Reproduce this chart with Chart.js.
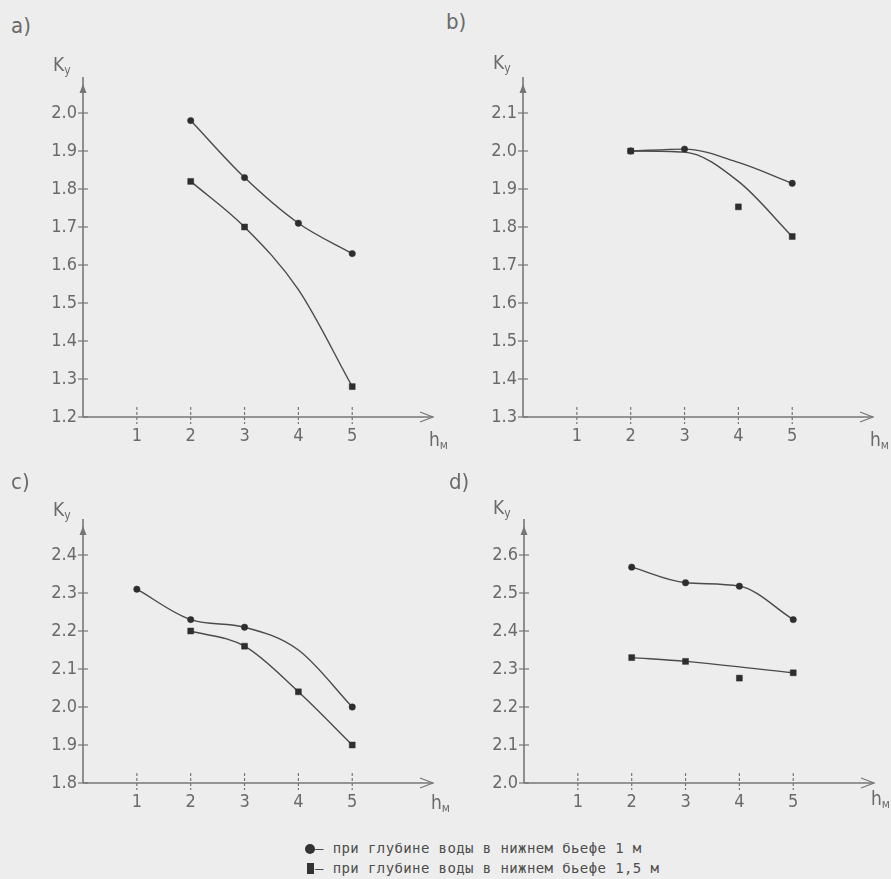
<!DOCTYPE html>
<html>
<head>
<meta charset="utf-8">
<script src="https://cdn.jsdelivr.net/npm/chart.js@4.4.1/dist/chart.umd.min.js"></script>
<style>
    body {
        margin: 0;
        width: 891px;
        height: 879px;
        background: #ededed;
        position: relative;
        overflow: hidden;
    }
    canvas { position: absolute; }
    .lbl {
        position: absolute;
        font-family: 'Liberation Sans Narrow', 'DejaVu Sans Condensed', 'DejaVu Sans', sans-serif;
        color: #6a6a6a;
        line-height: 1;
        white-space: nowrap;
    }
    .panel { font-size: 22px; }
    .ky { font-size: 19px; }
    .ky sub, .hm sub { font-size: 12px; vertical-align: -3px; }
    .hm { font-size: 19px; }
    .legend {
        position: absolute;
        left: 305px;
        font-family: 'DejaVu Sans Mono', monospace;
        font-size: 14px;
        letter-spacing: 0.4px;
        color: #4e4e4e;
        line-height: 1;
        white-space: nowrap;
    }
    .mark { display: inline-block; background: #333; vertical-align: -1px; }
</style>
</head>
<body>

<canvas id="chartA" width="445" height="420" style="left:0;top:40px"></canvas>
<canvas id="chartB" width="451" height="420" style="left:440px;top:40px"></canvas>
<canvas id="chartC" width="445" height="344" style="left:0;top:482px"></canvas>
<canvas id="chartD" width="451" height="344" style="left:441px;top:482px"></canvas>

<div class="lbl panel" style="left:11px;top:15px">a)</div>
<div class="lbl panel" style="left:446px;top:11px">b)</div>
<div class="lbl panel" style="left:11px;top:471px">c)</div>
<div class="lbl panel" style="left:449px;top:471px">d)</div>

<div class="lbl ky" style="left:53px;top:55px">K<sub>y</sub></div>
<div class="lbl ky" style="left:493px;top:53px">K<sub>y</sub></div>
<div class="lbl ky" style="left:53px;top:500px">K<sub>y</sub></div>
<div class="lbl ky" style="left:493px;top:498px">K<sub>y</sub></div>

<div class="lbl hm" style="left:429px;top:430px">h<sub>м</sub></div>
<div class="lbl hm" style="left:870px;top:430px">h<sub>м</sub></div>
<div class="lbl hm" style="left:431px;top:793px">h<sub>м</sub></div>
<div class="lbl hm" style="left:871px;top:789px">h<sub>м</sub></div>

<div class="legend" style="top:841px"><span class="mark" style="width:10px;height:10px;border-radius:50%"></span>— при глубине воды в нижнем бьефе 1 м</div>
<div class="legend" style="top:861px"><span class="mark" style="width:7px;height:11px;margin-left:2px;margin-right:1px"></span>— при глубине воды в нижнем бьефе 1,5 м</div>

<script>
// x axis, shared by all panels
const xTickValues = [1, 2, 3, 4, 5];

// panel a) - upper curve, lower curve (no mark at h=4 on the lower one)
const aX = [2, 3, 4, 5];
const aUpper = [1.98, 1.83, 1.71, 1.63];
const aUpperMarks = [true, true, true, true];
const aLower = [1.82, 1.70, 1.535, 1.28];
const aLowerMarks = [true, true, false, true];
const aYTicks = [1.2, 1.3, 1.4, 1.5, 1.6, 1.7, 1.8, 1.9, 2.0];

// panel b)
const bX = [2, 3, 4, 5];
const bUpper = [2.0, 2.005, 1.97, 1.915];
const bUpperMarks = [true, true, false, true];
const bLower = [2.0, 1.997, 1.92, 1.775];
const bLowerMarks = [true, false, false, true];
const bLoneX = [4];
const bLoneY = [1.853];
const bYTicks = [1.3, 1.4, 1.5, 1.6, 1.7, 1.8, 1.9, 2.0, 2.1];

// panel c)
const cUpperX = [1, 2, 3, 4, 5];
const cUpper = [2.31, 2.23, 2.21, 2.15, 2.0];
const cUpperMarks = [true, true, true, false, true];
const cLowerX = [2, 3, 4, 5];
const cLower = [2.2, 2.16, 2.04, 1.9];
const cLowerMarks = [true, true, true, true];
const cYTicks = [1.8, 1.9, 2.0, 2.1, 2.2, 2.3, 2.4];

// panel d)
const dUpperX = [2, 3, 4, 5];
const dUpper = [2.568, 2.527, 2.518, 2.43];
const dUpperMarks = [true, true, true, true];
const dLowerX = [2, 3, 5];
const dLower = [2.33, 2.32, 2.29];
const dLowerMarks = [true, true, true];
const dLoneX = [4];
const dLoneY = [2.276];
const dYTicks = [2.0, 2.1, 2.2, 2.3, 2.4, 2.5, 2.6];

const AXIS_COLOR = '#767676';
const LINE_COLOR = '#4a4a4a';
const MARK_COLOR = '#2e2e2e';
const TICK_FONT = { family: "'Liberation Sans Narrow', 'DejaVu Sans Condensed', 'DejaVu Sans', sans-serif", size: 18 };

// Draw the axes with crossing tick marks and arrow heads
const axesPlugin = {
    id: 'plotAxes',
    beforeDatasetsDraw(chart) {
        const { ctx, chartArea, scales } = chart;
        const left = chartArea.left;
        const bottom = chartArea.bottom;

        ctx.save();
        ctx.strokeStyle = AXIS_COLOR;
        ctx.fillStyle = AXIS_COLOR;
        ctx.lineWidth = 1.6;

        // y axis line
        ctx.beginPath();
        ctx.moveTo(left, bottom);
        ctx.lineTo(left, chartArea.top + 2);
        ctx.stroke();

        // x axis line
        ctx.beginPath();
        ctx.moveTo(left, bottom);
        ctx.lineTo(chartArea.right, bottom);
        ctx.stroke();

        // x arrow (open chevron)
        ctx.lineWidth = 1.2;
        ctx.beginPath();
        ctx.moveTo(chartArea.right - 13, bottom - 5);
        ctx.lineTo(chartArea.right, bottom);
        ctx.lineTo(chartArea.right - 13, bottom + 5);
        ctx.stroke();

        // y arrow (small filled head)
        ctx.beginPath();
        ctx.moveTo(left, chartArea.top + 9);
        ctx.lineTo(left - 3.5, chartArea.top + 18);
        ctx.lineTo(left + 3.5, chartArea.top + 18);
        ctx.closePath();
        ctx.fill();

        // y ticks crossing the axis
        ctx.lineWidth = 1.2;
        scales.y.ticks.forEach(t => {
            const py = scales.y.getPixelForValue(t.value);
            ctx.beginPath();
            ctx.moveTo(left - 5, py);
            ctx.lineTo(left + 5, py);
            ctx.stroke();
        });

        // x ticks: short dashed marks
        ctx.setLineDash([3, 2]);
        scales.x.ticks.forEach(t => {
            const px = scales.x.getPixelForValue(t.value);
            ctx.beginPath();
            ctx.moveTo(px, bottom - 10);
            ctx.lineTo(px, bottom + 7);
            ctx.stroke();
        });
        ctx.restore();
    }
};

function toPoints(xs, ys) {
    return xs.map((x, i) => ({ x: x, y: ys[i] }));
}

// Curve dataset; marks says which points get a marker
function curve(xs, ys, marks, style) {
    return {
        data: toPoints(xs, ys),
        borderColor: LINE_COLOR,
        borderWidth: 1.4,
        cubicInterpolationMode: 'monotone',
        pointStyle: style,
        pointRadius: marks.map(m => m ? (style === 'rect' ? 4.2 : 3.2) : 0),
        pointBackgroundColor: MARK_COLOR,
        pointBorderColor: MARK_COLOR,
        pointBorderWidth: 0.5,
        fill: false
    };
}

// Single marks with no line through them
function loose(xs, ys, style) {
    return {
        data: toPoints(xs, ys),
        showLine: false,
        pointStyle: style,
        pointRadius: 4.2,
        pointBackgroundColor: MARK_COLOR,
        pointBorderColor: MARK_COLOR,
        pointBorderWidth: 0.5
    };
}

function makePanel(canvasId, datasets, yMin, yMax, yTicks, padRight) {
    const canvas = document.getElementById(canvasId);
    return new Chart(canvas, {
        type: 'line',
        data: { datasets: datasets },
        options: {
            responsive: false,
            animation: false,
            events: [],
            layout: { padding: { top: 35, right: padRight, left: 0, bottom: 0 } },
            plugins: {
                legend: { display: false },
                tooltip: { enabled: false }
            },
            scales: {
                x: {
                    type: 'linear',
                    min: 0,
                    max: 6.5,
                    grid: { display: false, drawTicks: false },
                    border: { display: false },
                    afterFit: scale => { scale.height = 43; },
                    afterBuildTicks: scale => {
                        scale.ticks = xTickValues.map(v => ({ value: v }));
                    },
                    ticks: {
                        color: '#6a6a6a',
                        font: TICK_FONT,
                        padding: 9,
                        maxRotation: 0,
                        callback: v => String(v)
                    }
                },
                y: {
                    type: 'linear',
                    min: yMin,
                    max: yMax,
                    grid: { display: false, drawTicks: false },
                    border: { display: false },
                    afterFit: scale => { scale.width = 83; },
                    afterBuildTicks: scale => {
                        scale.ticks = yTicks.map(v => ({ value: v }));
                    },
                    ticks: {
                        color: '#6a6a6a',
                        font: TICK_FONT,
                        padding: 6,
                        callback: v => Number(v).toFixed(1)
                    }
                }
            }
        },
        plugins: [axesPlugin]
    });
}

makePanel('chartA', [
    curve(aX, aUpper, aUpperMarks, 'circle'),
    curve(aX, aLower, aLowerMarks, 'rect')
], 1.2, 2.1, aYTicks, 12);

makePanel('chartB', [
    curve(bX, bUpper, bUpperMarks, 'circle'),
    curve(bX, bLower, bLowerMarks, 'rect'),
    loose(bLoneX, bLoneY, 'rect')
], 1.3, 2.2, bYTicks, 18);

makePanel('chartC', [
    curve(cUpperX, cUpper, cUpperMarks, 'circle'),
    curve(cLowerX, cLower, cLowerMarks, 'rect')
], 1.8, 2.5, cYTicks, 12);

makePanel('chartD', [
    curve(dUpperX, dUpper, dUpperMarks, 'circle'),
    curve(dLowerX, dLower, dLowerMarks, 'rect'),
    loose(dLoneX, dLoneY, 'rect')
], 2.0, 2.7, dYTicks, 18);
</script>
</body>
</html>
